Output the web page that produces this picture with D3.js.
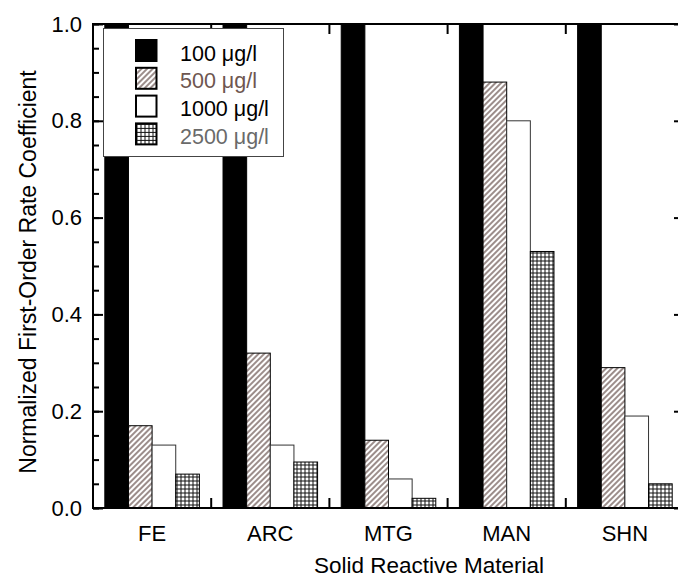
<!DOCTYPE html>
<html>
<head>
<meta charset="utf-8">
<script src="https://cdn.jsdelivr.net/npm/d3@7"></script>
<style>
  body { margin: 0; background: #fff; overflow: hidden; }
  text { font-family: "Liberation Sans", Arial, sans-serif; }
</style>
</head>
<body>
<div id="chart"></div>
<script>
// Chart data
const categories = ["FE", "ARC", "MTG", "MAN", "SHN"];
const seriesNames = ["100 \u03bcg/l", "500 \u03bcg/l", "1000 \u03bcg/l", "2500 \u03bcg/l"];
const conc100 = [1.0, 1.0, 1.0, 1.0, 1.0];
const conc500 = [0.17, 0.32, 0.14, 0.88, 0.29];
const conc1000 = [0.13, 0.13, 0.06, 0.80, 0.19];
const conc2500 = [0.07, 0.095, 0.02, 0.53, 0.05];
const yTicks = [0.0, 0.2, 0.4, 0.6, 0.8, 1.0];

const seriesValues = [conc100, conc500, conc1000, conc2500];
const fills = ["#000", "url(#hatch)", "#fff", "url(#grid)"];
const legendColors = ["#000", "#6e5650", "#000", "#6a6a6a"];

const W = 678, H = 577;
const margin = {top: 24, left: 93, bottom: 69};
const plotRight = 684;   // right frame sits just past the window edge
const fontSize = "22px";

const svg = d3.select("#chart").append("svg")
    .attr("width", W)
    .attr("height", H)
    .style("display", "block");

// Patterns for the hatched bars
const defs = svg.append("defs");
const hatch = defs.append("pattern")
    .attr("id", "hatch")
    .attr("patternUnits", "userSpaceOnUse")
    .attr("width", 4).attr("height", 4)
    .attr("patternTransform", "rotate(45)");
hatch.append("rect").attr("width", 4).attr("height", 4).attr("fill", "#fff");
hatch.append("line")
    .attr("x1", 1).attr("y1", 0).attr("x2", 1).attr("y2", 4)
    .attr("stroke", "#4a302b").attr("stroke-width", 1.1);

const grid = defs.append("pattern")
    .attr("id", "grid")
    .attr("patternUnits", "userSpaceOnUse")
    .attr("x", 0.5).attr("y", 0.5)
    .attr("width", 4).attr("height", 4);
grid.append("rect").attr("width", 4).attr("height", 4).attr("fill", "#fff");
grid.append("path")
    .attr("d", "M0,0.5H4M0.5,0V4")
    .attr("stroke", "#111").attr("stroke-width", 1);

// Scales
const x = d3.scaleBand()
    .domain(categories)
    .range([margin.left, plotRight])
    .paddingInner(0).paddingOuter(0);

const xSub = d3.scaleBand()
    .domain(d3.range(seriesNames.length))
    .range([0, x.bandwidth()])
    .paddingInner(0).paddingOuter(0.5);

const y = d3.scaleLinear()
    .domain([0, 1])
    .range([H - margin.bottom, margin.top]);

// Bars
seriesValues.forEach(function(vals, s) {
  svg.append("g")
    .selectAll("rect")
    .data(vals)
    .enter().append("rect")
    .attr("x", function(d, i) { return x(categories[i]) + xSub(s); })
    .attr("y", function(d) { return y(d); })
    .attr("width", xSub.bandwidth())
    .attr("height", function(d) { return y(0) - y(d); })
    .attr("fill", fills[s])
    .attr("stroke", s === 2 ? "#333" : "#000")
    .attr("stroke-width", 1);
});

// Frame
svg.append("rect")
    .attr("x", margin.left).attr("y", margin.top)
    .attr("width", plotRight - margin.left)
    .attr("height", y(0) - margin.top)
    .attr("fill", "none")
    .attr("stroke", "#000")
    .attr("stroke-width", 2);

// Y axis ticks (inward) on left and right
const minorTicks = d3.range(0, 1.0001, 0.05);
const yLeft = svg.append("g")
    .attr("transform", "translate(" + margin.left + ",0)")
    .call(d3.axisLeft(y).tickValues(yTicks).tickFormat(d3.format(".1f"))
      .tickSizeInner(-10).tickSizeOuter(0).tickPadding(11));
const yLeftMinor = svg.append("g")
    .attr("transform", "translate(" + margin.left + ",0)")
    .call(d3.axisLeft(y).tickValues(minorTicks).tickFormat("")
      .tickSizeInner(-6).tickSizeOuter(0));
const yRight = svg.append("g")
    .attr("transform", "translate(" + plotRight + ",0)")
    .call(d3.axisRight(y).tickValues(yTicks).tickFormat("")
      .tickSizeInner(-10).tickSizeOuter(0));
const yRightMinor = svg.append("g")
    .attr("transform", "translate(" + plotRight + ",0)")
    .call(d3.axisRight(y).tickValues(minorTicks).tickFormat("")
      .tickSizeInner(-4).tickSizeOuter(0));

[yLeft, yLeftMinor, yRight, yRightMinor].forEach(function(g) {
  g.select(".domain").remove();
  g.selectAll("line").attr("stroke", "#000").attr("stroke-width", 2);
});
yLeft.selectAll("text")
    .attr("fill", "#000")
    .style("font-size", fontSize)
    .style("font-family", "'Liberation Sans', Arial, sans-serif");

// X ticks between categories, top and bottom
const boundaries = categories.slice(1).map(function(c) { return x(c); });
svg.append("g").selectAll("line")
    .data(boundaries)
    .enter().append("line")
    .attr("x1", function(d) { return d; }).attr("x2", function(d) { return d; })
    .attr("y1", y(0)).attr("y2", y(0) - 10)
    .attr("stroke", "#000").attr("stroke-width", 2);
svg.append("g").selectAll("line")
    .data(boundaries)
    .enter().append("line")
    .attr("x1", function(d) { return d; }).attr("x2", function(d) { return d; })
    .attr("y1", y(1)).attr("y2", y(1) + 10)
    .attr("stroke", "#000").attr("stroke-width", 2);

// Category labels
svg.append("g").selectAll("text")
    .data(categories)
    .enter().append("text")
    .attr("x", function(d) { return x(d) + xSub(0) + 2 * xSub.bandwidth(); })
    .attr("y", 541)
    .attr("text-anchor", "middle")
    .style("font-size", fontSize)
    .text(function(d) { return d; });

// Axis titles
svg.append("text")
    .attr("x", 429)
    .attr("y", 573)
    .attr("text-anchor", "middle")
    .style("font-size", "22.5px")
    .text("Solid Reactive Material");

svg.append("text")
    .attr("transform", "translate(36,272) rotate(-90)")
    .attr("text-anchor", "middle")
    .style("font-size", "23px")
    .text("Normalized First-Order Rate Coefficient");

// Legend
const legend = svg.append("g");
legend.append("rect")
    .attr("x", 103.5).attr("y", 28.5)
    .attr("width", 180).attr("height", 128)
    .attr("fill", "#fff")
    .attr("stroke", "#444")
    .attr("stroke-width", 1);

const item = legend.selectAll(".item")
    .data(seriesNames)
    .enter().append("g")
    .attr("class", "item")
    .attr("transform", function(d, i) { return "translate(0," + (i * 27.8) + ")"; });

item.append("rect")
    .attr("x", 136).attr("y", 40)
    .attr("width", 20.5).attr("height", 21)
    .attr("fill", function(d, i) { return fills[i]; })
    .attr("stroke", "#000")
    .attr("stroke-width", 2);

item.append("text")
    .attr("x", 180).attr("y", 60.5)
    .attr("fill", function(d, i) { return legendColors[i]; })
    .style("font-size", "21.5px")
    .text(function(d) { return d; });
</script>
</body>
</html>
